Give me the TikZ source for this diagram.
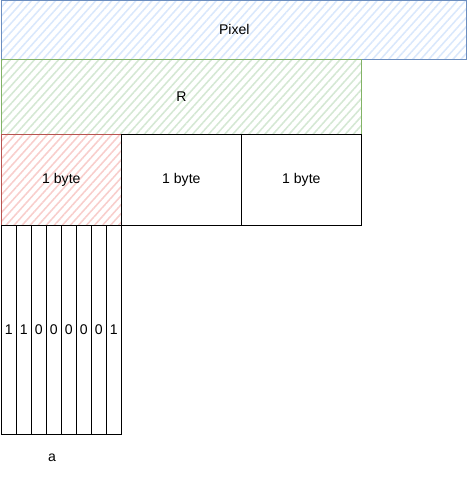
\documentclass[tikz,border=0pt]{standalone}
\usepackage{fontspec}
\setmainfont{Liberation Sans}
\usepackage{xcolor}
\usetikzlibrary{patterns.meta}
\definecolor{PxBlue}{HTML}{6C8EBF}
\definecolor{PxBlueFill}{HTML}{DAE8FC}
\definecolor{RGreen}{HTML}{82B366}
\definecolor{RGreenFill}{HTML}{D5E8D4}
\definecolor{ByteRed}{HTML}{B85450}
\definecolor{ByteRedFill}{HTML}{F8CECC}
\tikzset{
  cell/.style={draw,anchor=south west,inner sep=0pt,font=\footnotesize},
  hatched/.style={pattern={Lines[angle=48,distance=3.4pt,line width=0.9pt]},pattern color=#1},
}

\begin{document}
\begin{tikzpicture}[x=1cm,y=1cm]
\path[use as bounding box] (0,0) rectangle (9.34,9.64);
\node[cell,draw=PxBlue,hatched=PxBlueFill,minimum width=9.30cm,minimum height=1.18cm] (pixel) at (0.02,8.44) {Pixel};
\node[cell,draw=RGreen,hatched=RGreenFill,minimum width=7.20cm,minimum height=1.50cm] (rbox) at (0.02,6.94) {R};
\node[cell,draw=ByteRed,hatched=ByteRedFill,minimum width=2.40cm,minimum height=1.82cm] (byteA) at (0.02,5.12) {1 byte};
\node[cell,minimum width=2.40cm,minimum height=1.82cm] (byteB) at (2.42,5.12) {1 byte};
\node[cell,minimum width=2.40cm,minimum height=1.82cm] (byteC) at (4.82,5.12) {1 byte};
\foreach \i/\b in {1/1,2/1,3/0,4/0,5/0,6/0,7/0,8/1}
  \node[cell,minimum width=0.30cm,minimum height=4.18cm] (bit\i) at ({0.02+0.30*(\i-1)},0.94) {\b};
\node[font=\footnotesize] (alabel) at (1.04,0.48) {a};
\end{tikzpicture}
\end{document}
